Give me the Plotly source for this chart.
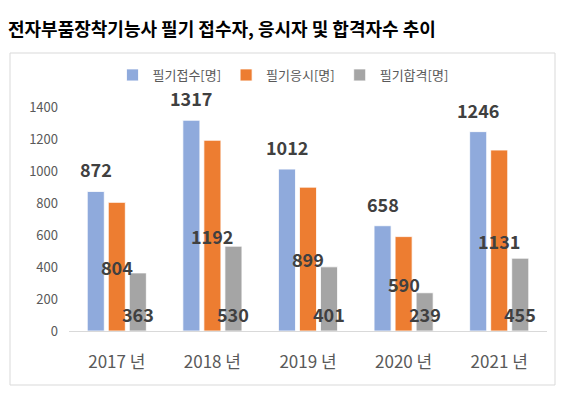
import plotly.graph_objects as go

years = ["2017 년", "2018 년", "2019 년", "2020 년", "2021 년"]
applied = [872, 1317, 1012, 658, 1246]
took = [804, 1192, 899, 590, 1131]
passed = [363, 530, 401, 239, 455]
series_names = ["필기접수[명]", "필기응시[명]", "필기합격[명]"]
colors = ["#8faadc", "#ed7d31", "#a5a5a5"]
y_ticks = [0, 200, 400, 600, 800, 1000, 1200, 1400]

FONT = "Noto Sans CJK KR"
bargap = 0.34
slot = (1 - bargap) / 3

fig = go.Figure()
for name, vals, col in zip(series_names, [applied, took, passed], colors):
    fig.add_trace(go.Bar(x=years, y=vals, name=name, marker=dict(color=col, line=dict(color="white", width=0.8))))

ann = []
lab_font = dict(family=FONT, size=18, color="#404040")
for i in range(len(years)):
    ann.append(dict(x=i - slot, y=applied[i], xref="x", yref="y", text=f"<b>{applied[i]}</b>",
                    showarrow=False, yanchor="middle", yshift=22, font=lab_font))
    ann.append(dict(x=i, y=took[i] / 2, xref="x", yref="y", text=f"<b>{took[i]}</b>",
                    showarrow=False, yanchor="middle", font=lab_font))
    ann.append(dict(x=i + slot, y=0, xref="x", yref="y", text=f"<b>{passed[i]}</b>",
                    showarrow=False, yanchor="middle", yshift=17, font=lab_font))

L, R, T, B = 69, 16, 107, 65
W, H = 563, 396
pw, ph = W - L - R, H - T - B

fig.update_layout(
    width=W, height=H,
    margin=dict(l=L, r=R, t=T, b=B),
    paper_bgcolor="white", plot_bgcolor="white",
    barmode="group", bargap=bargap, bargroupgap=0.19,
    font=dict(family=FONT, color="#595959"),
    title=dict(text="<b>전자부품장착기능사 필기 접수자, 응시자 및 합격자수 추이</b>",
               x=8 / W, xref="container", xanchor="left",
               y=1 - 30 / H, yref="container", yanchor="middle",
               font=dict(family=FONT, size=18, color="#000000")),
    legend=dict(orientation="h", x=(283 - L) / pw, xanchor="center",
                y=(H - B - 75) / ph, yanchor="middle",
                font=dict(family=FONT, size=13, color="#595959"),
                bgcolor="rgba(0,0,0,0)", itemwidth=30, traceorder="normal"),
    annotations=ann,
    shapes=[dict(type="rect", xref="paper", yref="paper",
                 x0=(10 - L) / pw, x1=(555 - L) / pw,
                 y0=-(385 - (H - B)) / ph, y1=((H - B) - 53) / ph,
                 line=dict(color="#d9d9d9", width=1), fillcolor="rgba(0,0,0,0)", layer="below")],
)
fig.update_xaxes(showline=True, linecolor="#d9d9d9", linewidth=1, showgrid=False,
                 tickfont=dict(family=FONT, size=17, color="#595959"), ticks="",
                 ticklabelstandoff=16)
fig.update_yaxes(range=[0, 1400], tickvals=y_ticks, showgrid=False, zeroline=False,
                 showline=False, tickfont=dict(family=FONT, size=13, color="#595959"),
                 ticklabelstandoff=10)

fig.write_html("out.html", config={"displayModeBar": False},
               post_script="document.body.style.margin='0';document.body.style.overflow='hidden';")
